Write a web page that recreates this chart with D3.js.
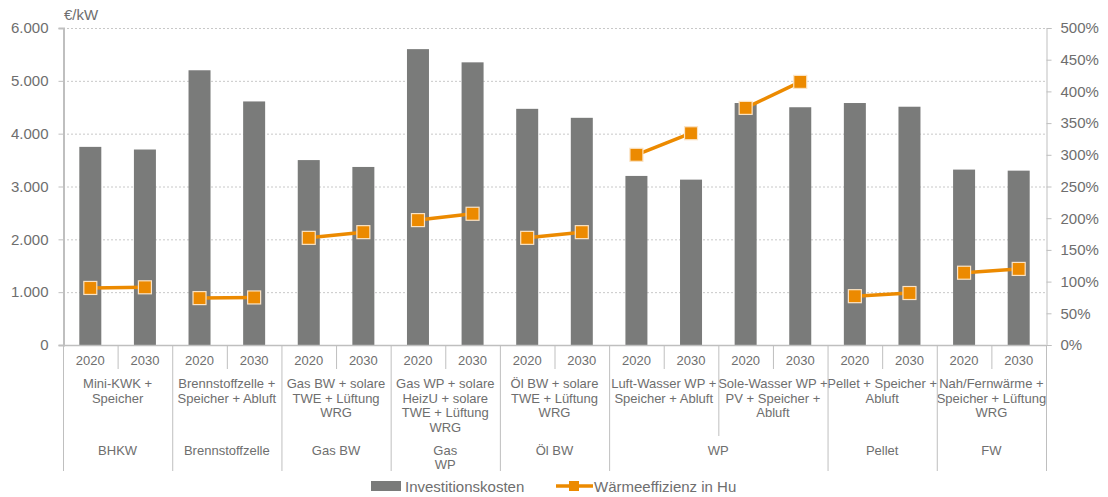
<!DOCTYPE html>
<html><head><meta charset="utf-8">
<script src="https://cdn.jsdelivr.net/npm/d3@7"></script>
<style>body{margin:0;background:#fff}svg{display:block}text{font-family:"Liberation Sans",Arial,sans-serif;fill:#6e6e6e}</style>
</head><body><svg id="c" width="1108" height="497"></svg>
<script>
const years = ["2020","2030"];
const subgroups = [
  ["Mini-KWK +","Speicher"],
  ["Brennstoffzelle +","Speicher + Abluft"],
  ["Gas BW + solare","TWE + Lüftung","WRG"],
  ["Gas WP + solare","HeizU + solare","TWE + Lüftung","WRG"],
  ["Öl BW + solare","TWE + Lüftung","WRG"],
  ["Luft-Wasser WP +","Speicher + Abluft"],
  ["Sole-Wasser WP +","PV + Speicher +","Abluft"],
  ["Pellet + Speicher +","Abluft"],
  ["Nah/Fernwärme +","Speicher + Lüftung","WRG"]
];
const groups = [["BHKW"],["Brennstoffzelle"],["Gas BW"],["Gas","WP"],["Öl BW"],["WP"],["Pellet"],["FW"]];
const groupSizes = [1,1,1,1,1,2,1,1]; // subgroups per group
const invest = [3750,3700, 5200,4610, 3500,3370, 5600,5350, 4470,4300, 3200,3130, 4580,4500, 4580,4510, 3320,3300];
const effizienz = [90,91, 74,75, 169,178, 197,207, 169,178, 300,334, 374,415, 77,82, 114,120];
const leftTicks = [0,1000,2000,3000,4000,5000,6000];
const rightTicks = [0,50,100,150,200,250,300,350,400,450,500];

const svg = d3.select("#c");
const L = 63, R = 1046, T = 28, B = 345;
const n = invest.length;
const x = d3.scaleBand().domain(d3.range(n)).range([L,R]).paddingInner(0).paddingOuter(0);
const bw = x.bandwidth();
const yL = d3.scaleLinear().domain([0,6000]).range([B,T]);
const yR = d3.scaleLinear().domain([0,500]).range([B,T]);
const axisCol = "#bfbfbf";
const txtCol = "#6e6e6e";
const fmt = d => d3.format(",")(d).replace(/,/g,".");

// gridlines
svg.append("g").selectAll("line").data(leftTicks.filter(d=>d>0)).join("line")
  .attr("x1",L).attr("x2",R).attr("y1",d=>yL(d)+0.5).attr("y2",d=>yL(d)+0.5)
  .attr("stroke","#c8c8c8").attr("stroke-dasharray","2,2").attr("stroke-width",1);

// left axis
const gl = svg.append("g").attr("transform",`translate(${L+0.5},0)`)
  .call(d3.axisLeft(yL).tickValues(leftTicks).tickFormat(fmt).tickSize(5).tickPadding(10));
gl.select(".domain").attr("stroke",axisCol).attr("stroke-width",2);
gl.selectAll(".tick line").attr("stroke",axisCol);
gl.selectAll(".tick text").style("font-size","15px").attr("fill",txtCol).style("font-family","Liberation Sans, Arial");

// right axis
const gr = svg.append("g").attr("transform",`translate(${R+0.5},0)`)
  .call(d3.axisRight(yR).tickValues(rightTicks).tickFormat(d=>d+"%").tickSize(5).tickPadding(9));
gr.select(".domain").attr("stroke",axisCol).attr("stroke-width",1);
gr.selectAll(".tick line").attr("stroke",axisCol);
gr.selectAll(".tick text").style("font-size","15px").attr("fill",txtCol).style("font-family","Liberation Sans, Arial");

// unit label
svg.append("text").attr("x",L+1).attr("y",20).style("font-size","15px").text("€/kW");

// bars
const barW = 22;
svg.append("g").selectAll("rect").data(invest).join("rect")
  .attr("x",(d,i)=>x(i)+bw/2-barW/2).attr("width",barW)
  .attr("y",d=>yL(d)).attr("height",d=>B-yL(d)).attr("fill","#7a7b7a");

// x axis bottom line
svg.append("line").attr("x1",L).attr("x2",R).attr("y1",B+0.5).attr("y2",B+0.5).attr("stroke",axisCol).attr("stroke-width",1.5);

// year labels and small separators
const xa = svg.append("g");
d3.range(n).forEach(i=>{
  xa.append("text").attr("x",x(i)+bw/2).attr("y",365).attr("text-anchor","middle").style("font-size","13px").text(years[i%2]);
  if(i%2===1) xa.append("line").attr("x1",x(i)+0.5).attr("x2",x(i)+0.5).attr("y1",B).attr("y2",369).attr("stroke",axisCol);
});
// subgroup labels
subgroups.forEach((lines,s)=>{
  const cx = x(s*2)+bw;
  lines.forEach((t,k)=>{
    xa.append("text").attr("x",cx).attr("y",388+k*14.5).attr("text-anchor","middle").style("font-size","13px").text(t);
  });
});
// group labels and separators
let sIdx = 0;
const bounds = [0];
groups.forEach((lines,g)=>{
  const start = sIdx*2, end = (sIdx+groupSizes[g])*2;
  const cx = (x(start)+x(end-1)+bw)/2;
  lines.forEach((t,k)=>{
    xa.append("text").attr("x",cx).attr("y",455+k*14).attr("text-anchor","middle").style("font-size","13px").text(t);
  });
  for(let q=1;q<groupSizes[g];q++){
    const xx = x(start+q*2)+0.5;
    xa.append("line").attr("x1",xx).attr("x2",xx).attr("y1",B).attr("y2",436).attr("stroke",axisCol);
  }
  sIdx += groupSizes[g];
  bounds.push(end);
});
bounds.forEach(b=>{
  const xx = (b<n? x(b): R)+0.5;
  xa.append("line").attr("x1",xx).attr("x2",xx).attr("y1",B).attr("y2",471).attr("stroke",axisCol);
});

// line segments per subgroup
const orange = "#ec8a00";
const line = d3.line().x(d=>x(d)+bw/2).y(d=>yR(effizienz[d]));
subgroups.forEach((s,k)=>{
  svg.append("path").attr("d",line([k*2,k*2+1])).attr("fill","none").attr("stroke",orange).attr("stroke-width",3.5);
});
const ms = 13;
svg.append("g").selectAll("rect").data(effizienz).join("rect")
  .attr("x",(d,i)=>x(i)+bw/2-ms/2).attr("y",d=>yR(d)-ms/2).attr("width",ms).attr("height",ms)
  .attr("fill",orange).attr("stroke","#fbe3c4").attr("stroke-width",1.2);

// legend
const lg = svg.append("g");
lg.append("rect").attr("x",371).attr("y",481).attr("width",30).attr("height",10).attr("fill","#7a7b7a");
lg.append("text").attr("x",405).attr("y",492).style("font-size","15px").text("Investitionskosten");
lg.append("line").attr("x1",556).attr("x2",593).attr("y1",486).attr("y2",486).attr("stroke",orange).attr("stroke-width",3.5);
lg.append("rect").attr("x",569).attr("y",481).attr("width",10).attr("height",10).attr("fill",orange);
lg.append("text").attr("x",594).attr("y",492).style("font-size","15px").text("Wärmeeffizienz in Hu");
</script></body></html>
